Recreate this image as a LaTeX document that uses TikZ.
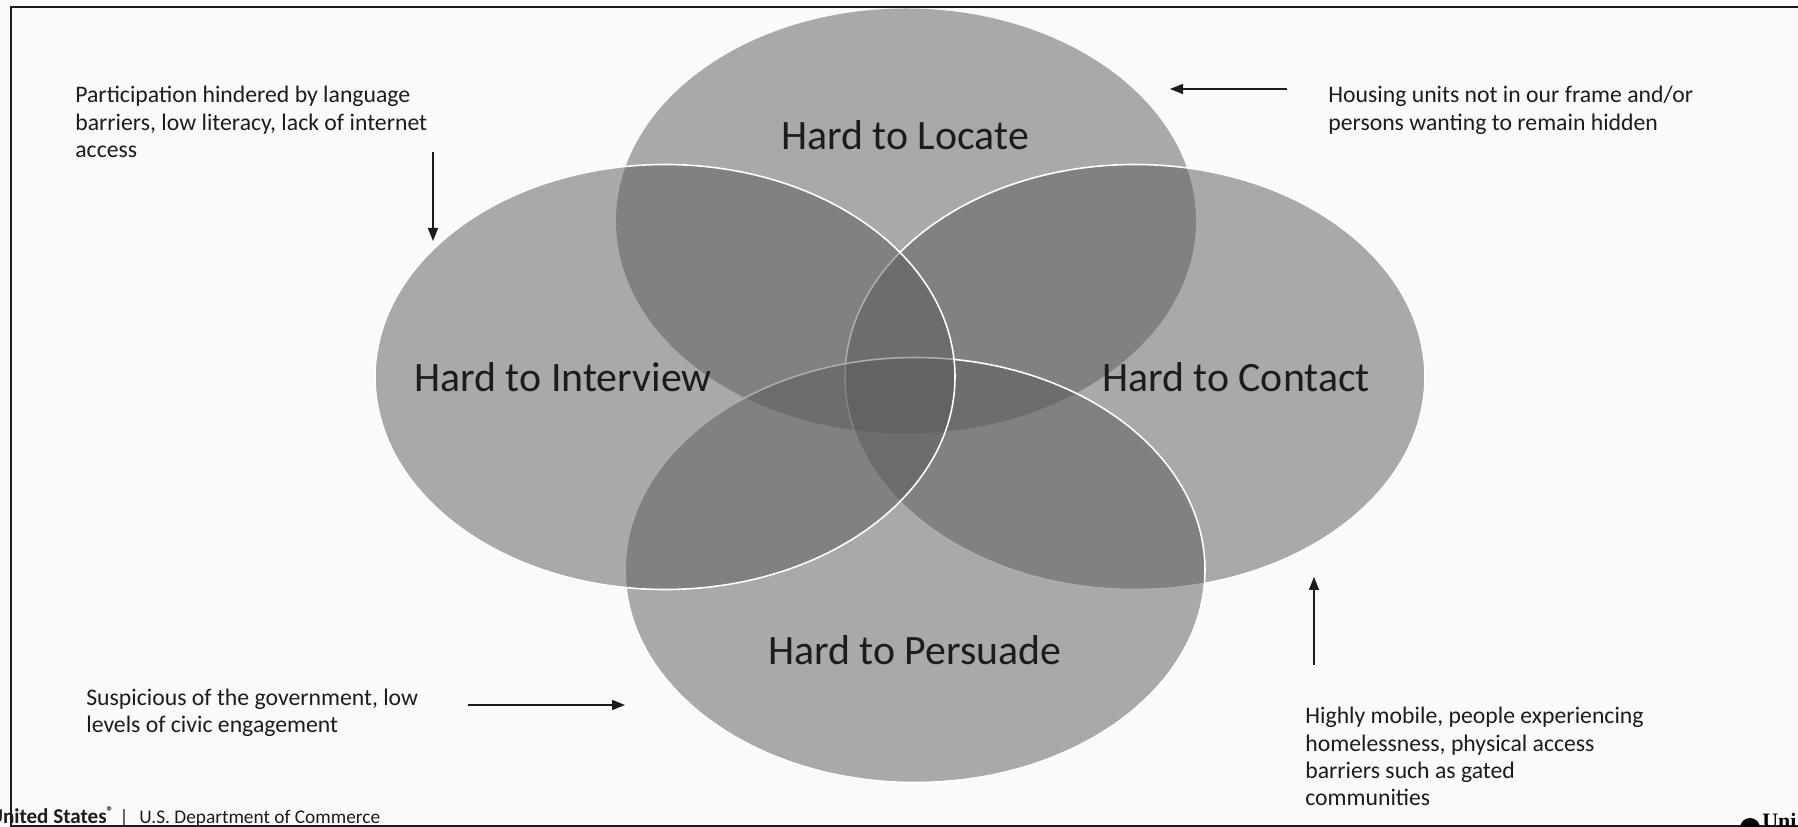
\documentclass[tikz,border=0pt]{standalone}
\usepackage{fontspec}
\setmainfont{Carlito}
\newfontfamily\logofont{Liberation Serif}
\usetikzlibrary{arrows.meta,
	shapes.geometric}
\definecolor{paper}{RGB}{248,250,251}
\definecolor{ink}{RGB}{28,28,28}
\definecolor{blobgray}{RGB}{90,90,90}

\begin{document}
\begin{tikzpicture}
      \tikzstyle{blob}=[ellipse,inner sep=0pt,minimum width=11.6cm,minimum height=8.5cm,fill=blobgray,fill opacity=0.5,draw=white,line width=0.9pt]
      \tikzstyle{head}=[font=\fontsize{23.8}{28}\selectfont,text=ink,inner sep=0pt]
      \tikzstyle{note}=[font=\fontsize{13.5}{15.5}\selectfont,text=ink,align=left,anchor=north west,inner sep=0pt]
      \tikzstyle{pointer}=[-{Triangle[length=0.26cm,width=0.2cm]},line width=0.9pt,draw=ink]
      \useasboundingbox (0,0) rectangle (35.96,16.54);
      \clip (0,0) rectangle (35.96,16.54);
      \fill[paper] (0,0) rectangle (35.96,16.54);
      \node[blob,draw=none] (e_loc) at (18.12,12.12) {};
      \node[blob] (e_con) at (22.70,9.00) {};
      \node[blob] (e_per) at (18.30,5.14) {};
      \node[blob] (e_int) at (13.30,9.00) {};
      \node[head] (l_loc) at (18.10,13.84) {Hard to Locate};
      \node[head] (l_int) at (11.26,9.00) {Hard to Interview};
      \node[head] (l_con) at (24.72,9.00) {Hard to Contact};
      \node[head] (l_per) at (18.30,3.54) {Hard to Persuade};
      \node[note] (n_int) at (1.50,14.82) {Participation hindered by language\\barriers, low literacy, lack of internet\\access};
      \node[note] (n_loc) at (26.56,14.82) {Housing units not in our frame and/or\\persons wanting to remain hidden};
      \node[note] (n_per) at (1.72,2.77) {Suspicious of the government, low\\levels of civic engagement};
      \node[note] (n_con) at (26.10,2.40) {Highly mobile, people experiencing\\homelessness, physical access\\barriers such as gated\\communities};
      \coordinate (a_int) at (8.66,13.50);
      \coordinate (b_int) at (8.66,11.72);
      \coordinate (a_loc) at (25.74,14.76);
      \coordinate (b_loc) at (23.40,14.76);
      \coordinate (a_per) at (9.36,2.44);
      \coordinate (b_per) at (12.50,2.44);
      \coordinate (a_con) at (26.28,3.24);
      \coordinate (b_con) at (26.28,5.00);
      \draw[pointer] (a_int) -- (b_int);
      \draw[pointer] (a_loc) -- (b_loc);
      \draw[pointer] (a_per) -- (b_per);
      \draw[pointer] (a_con) -- (b_con);
      \draw[line width=1.4pt,draw=ink] (35.96,16.40) -- (0.22,16.40) -- (0.22,0.02) -- (35.96,0.02);
      \node[font=\bfseries\fontsize{12}{14}\selectfont,text=ink,anchor=base east,inner sep=0pt] (f_us) at (2.30,0.06) {United States\textsuperscript{\textregistered}};
      \node[font=\fontsize{11}{13}\selectfont,text=ink,anchor=base,inner sep=0pt] (f_bar) at (2.48,0.06) {|};
      \node[font=\fontsize{11}{13}\selectfont,text=ink,anchor=base west,inner sep=0pt] (f_doc) at (2.78,0.06) {U.S. Department of Commerce};
      \node[circle,fill=black,minimum size=0.4cm,inner sep=0pt] (f_dot) at (35.00,-0.02) {};
      \node[font=\logofont\bfseries\fontsize{12.5}{14}\selectfont,anchor=base west,inner sep=0pt] (f_uni) at (35.24,-0.04) {Uni};
\end{tikzpicture}
\end{document}
